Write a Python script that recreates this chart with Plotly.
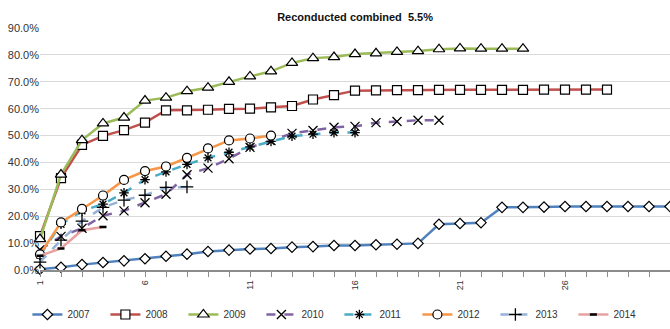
import plotly.graph_objects as go

title_text = "Reconducted combined  5.5%"
series_names = ["2007", "2008", "2009", "2010", "2011", "2012", "2013", "2014"]

y2007 = [0.3, 1.0, 2.0, 2.8, 3.4, 4.2, 5.1, 5.9, 6.9, 7.4, 7.8, 8.0, 8.5, 8.7, 9.1, 9.1,
         9.4, 9.6, 9.9, 17.0, 17.3, 17.6, 23.3, 23.3, 23.4, 23.6, 23.6, 23.6, 23.6, 23.6, 23.6]
y2008 = [12.6, 34.2, 46.5, 49.9, 52.0, 54.8, 59.4, 59.4, 59.6, 59.9, 60.0, 60.5, 61.0, 63.4,
         65.0, 66.7, 66.8, 66.9, 66.9, 67.0, 67.0, 67.0, 67.0, 67.0, 67.1, 67.1, 67.1, 67.1]
y2009 = [11.5, 35.5, 48.3, 54.5, 56.7, 63.0, 64.1, 66.5, 67.8, 70.0, 72.0, 73.9, 77.0, 78.8,
         79.2, 80.3, 80.6, 81.1, 81.4, 82.1, 82.4, 82.3, 82.3, 82.3]
y2010 = [7.5, 12.5, 15.5, 20.2, 22.0, 25.0, 28.2, 35.4, 37.9, 41.4, 45.6, 48.1, 50.8, 51.9,
         53.1, 53.4, 54.8, 55.2, 55.7, 55.7]
y2011 = [5.5, 17.0, 22.0, 24.5, 28.7, 33.6, 36.5, 39.3, 41.7, 43.8, 45.8, 47.8, 49.8, 50.5,
         51.1, 51.1]
y2012 = [5.8, 17.7, 22.7, 27.7, 33.5, 36.8, 38.5, 41.7, 45.2, 48.2, 48.9, 50.0]
y2013 = [2.9, 11.1, 18.2, 23.3, 26.0, 27.8, 30.7, 30.9]
y2014 = [5.3, 8.0, 14.8, 16.0]

series_values = [y2007, y2008, y2009, y2010, y2011, y2012, y2013, y2014]

colors = ["#4F81BD", "#C0504D", "#9BBB59", "#8064A2", "#4BACC6", "#F79646", "#95B3D7", "#E6A1A0"]
dashes = ["solid", "solid", "solid", "dash", "dash", "solid", "dash", "solid"]
symbols = ["diamond", "square", "triangle-up", "x-thin", "asterisk", "circle", "cross-thin", "line-ew"]
sizes = [8, 9, 10, 9, 8, 9, 9, 5]

fig = go.Figure()
for name, vals, col, dsh, sym, sz in zip(series_names, series_values, colors, dashes, symbols, sizes):
    xs = list(range(1, len(vals) + 1))
    ys = [v / 100 for v in vals]
    thin = sym in ("x-thin", "asterisk", "cross-thin", "line-ew")
    fig.add_trace(go.Scatter(
        x=xs, y=ys, name=name, mode="lines+markers",
        line=dict(color=col, width=2.5, dash=dsh),
        marker=dict(symbol=sym, size=sz, color="white" if not thin else "black",
                    line=dict(color="black", width=1.2 if not thin else (2.5 if sym == "line-ew" else 1.3))),
        cliponaxis=False,
    ))

fig.update_layout(
    width=670, height=329,
    margin=dict(l=40, r=0, t=28, b=44),
    paper_bgcolor="white", plot_bgcolor="white",
    font=dict(family="Liberation Sans, Arial, sans-serif", size=11, color="#333333"),
    title=dict(text="<b>" + title_text + "</b>", x=0.53, xanchor="center", y=0.948, yanchor="middle",
               font=dict(size=11, color="#111111")),
    showlegend=True,
    legend=dict(orientation="h", x=-0.02, xanchor="left", y=-0.125, yanchor="top",
                font=dict(size=10, color="#333333"), entrywidth=33, entrywidthmode="pixels",
                itemwidth=30, tracegroupgap=0, bgcolor="rgba(0,0,0,0)"),
    xaxis=dict(range=[1, 31], tick0=1, dtick=5, tickangle=-90, showgrid=False, zeroline=False,
               showline=True, linecolor="#8c8c8c", linewidth=1.5, automargin=False,
               ticks="outside", ticklen=5, tickcolor="#8c8c8c",
               minor=dict(dtick=1, ticks="outside", ticklen=5, tickcolor="#8c8c8c", showgrid=False),
               tickfont=dict(size=9)),
    yaxis=dict(range=[0, 0.9], dtick=0.1, tickformat=".1%", showgrid=True, gridcolor="#d9d9d9",
               gridwidth=1, zeroline=False, showline=False, ticks="", automargin=False,
               tickfont=dict(size=11)),
)

fig.write_html("out.html", config={"displayModeBar": False},
               post_script="document.body.style.margin='0';")
